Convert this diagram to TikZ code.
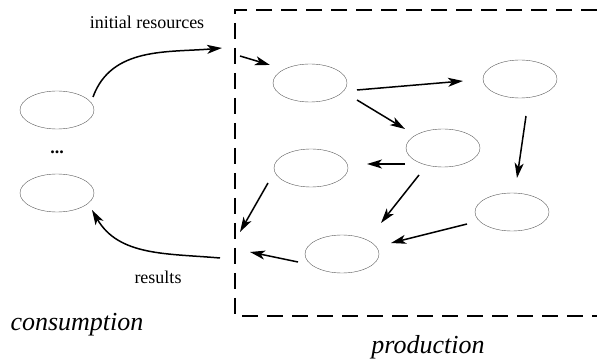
\documentclass[tikz,border=0pt]{standalone}
\usepackage{fontspec}
\setmainfont{Liberation Serif}
\usetikzlibrary{arrows.meta,shapes.geometric}
\tikzset{
    %Define standard arrow tip
    >={Stealth[length=15pt,width=9pt,inset=4pt]},
    %Define style for ellipses
    agent/.style={
           ellipse,
           draw=black!65, thin,
           minimum width=74pt,
           minimum height=38pt,
           inner sep=0pt},
    % Define arrow style
    pil/.style={
           ->,
           line width=1.5pt},
    % Define style for the border of production
    border/.style={
           line width=1.3pt,
           dash pattern=on 16pt off 9pt},
    lbl/.style={font=\fontsize{18}{20}\selectfont},
    area/.style={font=\fontsize{26}{28}\selectfont\itshape}
}
\begin{document}
\begin{tikzpicture}[x=1pt,y=1pt]
\useasboundingbox (0,-363) rectangle (597,0);
 %border
\draw[border] (597,-10) -- (235,-10) -- (235,-316) -- (597,-316);
 %nodes
\node[agent] (cons1) at (57,-110) {};
\node[agent] (cons2) at (57,-193) {};
\node[lbl] (dots) at (57,-152) {\bfseries ...};
\node[agent] (p1) at (310,-83) {};
\node[agent] (p2) at (520,-79) {};
\node[agent] (p3) at (443,-148) {};
\node[agent] (p4) at (311,-168) {};
\node[agent] (p5) at (512,-212) {};
\node[agent] (p6) at (342,-254) {};
 %labels
\node[lbl] (init) at (147,-22) {initial resources};
\node[lbl] (res) at (158,-277) {results};
\node[area] (consumption) at (77,-325) {consumption};
\node[area] (production) at (428,-347) {production};
 %gates
\coordinate (inL) at (222,-48);
\coordinate (inR) at (240,-56);
\coordinate (outL) at (220,-258);
\coordinate (outR1) at (240,-232);
\coordinate (outR2) at (250,-252);
 %arrows
\draw[pil] ([shift={(36,13)}]cons1.center) to[out=70,in=185] (inL);
\draw[pil] (outL) to[out=175,in=-60] ([shift={(35,-17)}]cons2.center);
\draw[pil] (inR) -- ([shift={(-40,18)}]p1.center);
\draw[pil] ([shift={(47,-7)}]p1.center) -- ([shift={(-57,-2)}]p2.center);
\draw[pil] ([shift={(47,-17)}]p1.center) -- ([shift={(-38,19)}]p3.center);
\draw[pil] ([shift={(-38,-16)}]p3.center) -- ([shift={(56,4)}]p4.center);
\draw[pil] ([shift={(6,-37)}]p2.center) -- ([shift={(5,34)}]p5.center);
\draw[pil] ([shift={(-24,-27)}]p3.center) -- ([shift={(39,31)}]p6.center);
\draw[pil] ([shift={(-45,-12)}]p5.center) -- ([shift={(49,11)}]p6.center);
\draw[pil] ([shift={(-43,-15)}]p4.center) -- (outR1);
\draw[pil] ([shift={(-44,-8)}]p6.center) -- (outR2);
\end{tikzpicture}
\end{document}
